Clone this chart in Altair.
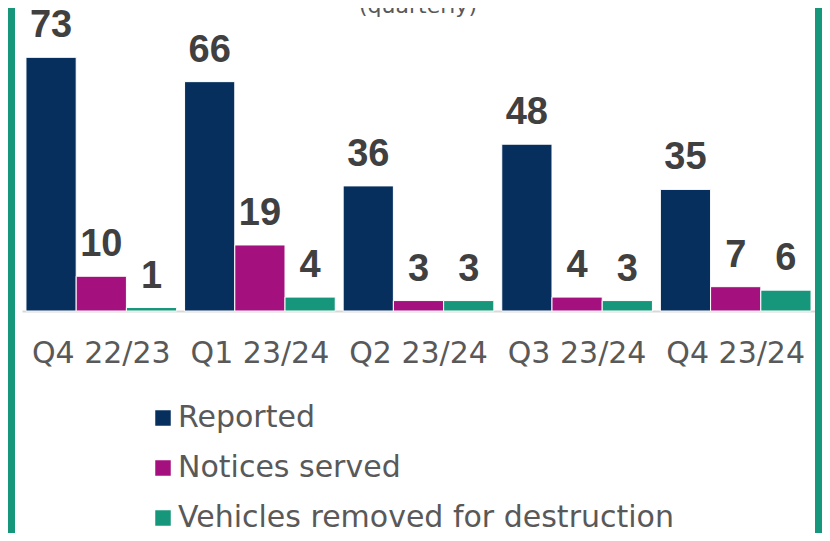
import altair as alt
import pandas as pd

quarters = ["Q4 22/23", "Q1 23/24", "Q2 23/24", "Q3 23/24", "Q4 23/24"]
series = ["Reported", "Notices served", "Vehicles removed for destruction"]
reported = [73, 66, 36, 48, 35]
notices = [10, 19, 3, 4, 7]
vehicles = [1, 4, 3, 3, 6]
colors = ["#062f5e", "#a5107f", "#16977b"]
subtitle = "(quarterly)"

rows = []
for i, q in enumerate(quarters):
    for s, vals in zip(series, [reported, notices, vehicles]):
        rows.append({"quarter": q, "series": s, "value": vals[i]})
df = pd.DataFrame(rows)

W, H = 793, 278

x = alt.X(
    "quarter:N", sort=quarters,
    scale=alt.Scale(paddingInner=0.05, paddingOuter=0.025),
    axis=alt.Axis(title=None, labelAngle=0, labelFontSize=30, labelFont="DejaVu Sans",
                  labelColor="#595959", labelPadding=27, ticks=False,
                  domainColor="#d9d9d9", domainWidth=2, grid=False),
)
xo = alt.XOffset("series:N", sort=series, scale=alt.Scale(paddingInner=0, paddingOuter=0))
y = alt.Y("value:Q", scale=alt.Scale(domain=[0, 80], nice=False, zero=True), axis=None)
color = alt.Color(
    "series:N", sort=series,
    scale=alt.Scale(domain=series, range=colors),
    legend=alt.Legend(orient="none", legendX=126, legendY=370, direction="vertical",
                      symbolType="square", symbolSize=240, symbolStrokeWidth=0,
                      labelFontSize=30, labelFont="DejaVu Sans", labelColor="#595959",
                      labelOffset=0, rowPadding=20, title=None, padding=0, labelLimit=1000),
)

base = alt.Chart(df)
bars = base.mark_bar(stroke="white", strokeWidth=1).encode(x=x, xOffset=xo, y=y, color=color)
labels = base.mark_text(dy=-20, baseline="alphabetic", fontSize=38, fontWeight="bold",
                        font="Liberation Sans Narrow, Liberation Sans, sans-serif",
                        color="#404040").encode(x=x, xOffset=xo, y=y, text="value:Q")

one = alt.Chart(pd.DataFrame({"a": [0]}))
left_border = one.mark_rect(color="#16977b").encode(
    x=alt.value(-14), x2=alt.value(-7), y=alt.value(-25), y2=alt.value(500))
right_border = one.mark_rect(color="#16977b").encode(
    x=alt.value(W), x2=alt.value(W + 7), y=alt.value(-25), y2=alt.value(500))
title = one.mark_text(text=subtitle, fontSize=22, font="DejaVu Sans", color="#595959",
                      baseline="alphabetic", align="center").encode(
    x=alt.value(396), y=alt.value(-20))

chart = alt.layer(bars, labels, left_border, right_border, title).properties(
    width=W, height=H,
    autosize=alt.AutoSizeParams(type="none"),
    padding={"left": 14, "top": 25, "right": 7, "bottom": 222},
).configure_view(stroke=None)

chart.save("out.html", embed_options={"renderer": "svg", "actions": False})
